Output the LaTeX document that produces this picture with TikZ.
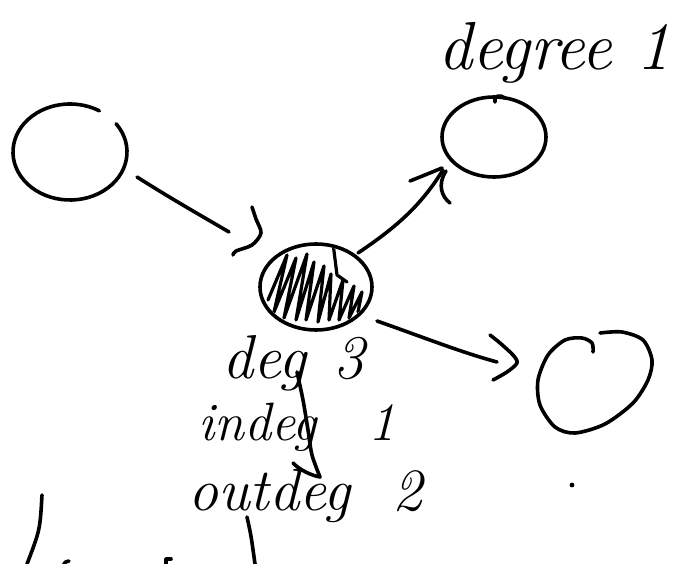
\documentclass[tikz,border=0pt]{standalone}
\begin{document}
\begin{tikzpicture}[x=1pt,y=-1pt,
  ink/.style={line width=3.6pt,line cap=round,line join=round},
  hand/.style={inner sep=0pt,anchor=base west}]
\useasboundingbox (0,0) rectangle (688,564);
% node centres
\coordinate (L) at (70,152);
\coordinate (C) at (316,287);
\coordinate (U) at (494,137);
\coordinate (R) at (595,383);
% left circle (open at top right)
\draw[ink] (L) ++(-36:57 and 48) arc[start angle=-36,end angle=301,x radius=57,y radius=48];
% centre node, scribbled
\draw[ink] (C) ellipse[x radius=56,y radius=43];
\begin{scope}
  \clip (C) ellipse[x radius=54,y radius=41];
  \draw[ink,line width=3.2pt] (268,300) -- (287,255) -- (274,312) -- (296,258) -- (284,318) -- (307,254)
    -- (296,320) -- (314,262) -- (306,320) -- (324,266) -- (318,322) -- (331,274) -- (329,320)
    -- (343,280) -- (339,320) -- (354,286) -- (349,318) -- (362,292) -- (358,312);
  \draw[ink,line width=3.2pt] (333,243) -- (337,275) -- (347,282);
\end{scope}
% upper circle
\draw[ink] (U) ellipse[x radius=52,y radius=40];
\draw[ink] (495,102) .. controls (493,96) and (500,94) .. (505,98);
% right circle (open, curled)
\draw[ink] plot[smooth] coordinates {(593,352) (592,343) (582,338) (565,340) (548,355) (538,380) (540,405)
  (555,427) (575,433) (605,424) (633,403) (648,380) (652,360) (643,340) (622,332) (600,333)};
% connector endpoints
\coordinate (Lout) at (137,177);
\coordinate (Cin) at (229,232);
\coordinate (Cout1) at (358,253);
\coordinate (Uin) at (443,170);
\coordinate (Cout2) at (377,321);
\coordinate (Rin) at (497,362);
% arrow left -> centre
\draw[ink] (Lout) .. controls (170,198) and (200,215) .. (Cin);
\draw[ink] plot[smooth] coordinates {(252,207) (256,219) (261,233) (252,245) (236,251) (233,255)};
% arrow centre -> upper
\draw[ink] (Cout1) .. controls (395,228) and (420,207) .. (Uin);
\draw[ink] (410,181) .. controls (425,175) .. (442,168);
\draw[ink] (446,171) .. controls (437,185) and (442,197) .. (450,203);
% arrow centre -> right
\draw[ink] (Cout2) .. controls (420,336) and (460,352) .. (Rin);
\draw[ink] plot[smooth] coordinates {(490,335) (500,343) (513,355) (517,363) (507,372) (493,380)};
% labels
\node[hand,font=\itshape\fontsize{68}{68}\selectfont] (tdeg1) at (438,70) {degree 1};
\node[hand,font=\itshape\fontsize{62}{62}\selectfont] (tdeg3) at (222,378) {deg\hspace{28pt}3};
\node[hand,font=\itshape\fontsize{54}{54}\selectfont] (tin) at (198,440) {indeg\hspace{52pt}1};
\node[hand,font=\itshape\fontsize{60}{60}\selectfont] (tout) at (188,510) {outdeg\hspace{42pt}2};
% stray strokes
\draw[ink] plot[smooth] coordinates {(297,372) (303,400) (308,430) (312,455) (320,477)};
\draw[ink] (293,463) .. controls (300,470) and (310,475) .. (320,477);
\draw[ink] (247,517) .. controls (251,535) .. (255,564);
\draw[ink] (42,495) .. controls (40,530) .. (27,564);
\draw[ink] (63,566) .. controls (65,562) .. (69,561);
\draw[ink] (166,566) -- (166,559) -- (171,559);
\fill (572,485) circle[radius=2.4];
\end{tikzpicture}
\end{document}
